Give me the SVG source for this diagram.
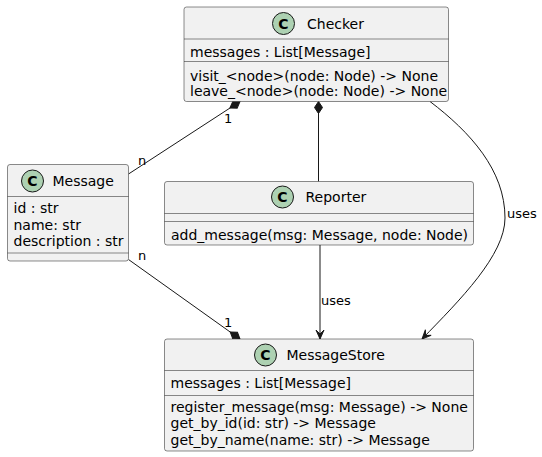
<svg xmlns="http://www.w3.org/2000/svg" width="542" height="457" viewBox="0 0 542 457">
<style>
.box{fill:#F1F1F1;stroke:#181818;stroke-width:0.5}
.sep{stroke:#181818;stroke-width:0.5}
.circ{fill:#ADD1B2;stroke:#181818;stroke-width:1}
.cl{font-family:"DejaVu Sans",sans-serif;font-size:14px;font-weight:bold;fill:#000;text-anchor:middle}
.t{font-family:"DejaVu Sans",sans-serif;font-size:14px;fill:#000}
.lbl{font-family:"DejaVu Sans",sans-serif;font-size:13px;fill:#000}
.edge{fill:none;stroke:#181818;stroke-width:1}
</style>
<defs>
<marker id="dia" markerUnits="userSpaceOnUse" viewBox="-1 -5 14 10" refX="12" refY="0" markerWidth="14" markerHeight="10" orient="auto" overflow="visible">
<path d="M0,0 L6,-4 L12,0 L6,4 Z" fill="#181818" stroke="#181818" stroke-width="1"/>
</marker>
<marker id="arr" markerUnits="userSpaceOnUse" viewBox="-10 -5 11 10" refX="0" refY="0" markerWidth="11" markerHeight="10" orient="auto" overflow="visible">
<path d="M0,0 L-9,-4 L-5,0 L-9,4 Z" fill="#181818" stroke="#181818" stroke-width="1"/>
</marker>
</defs>
<g id="connectors">
<path class="edge" d="M128.5,174 L240,101.5" marker-end="url(#dia)"/>
<path class="edge" d="M318.5,181.5 L318.5,101.5" marker-end="url(#dia)"/>
<path class="edge" d="M128.5,259.5 L240,339" marker-end="url(#dia)"/>
<path class="edge" d="M320,245 L320,339" marker-end="url(#arr)"/>
<path class="edge" d="M430,101.5 C470,132 505,170 505,218 C505,255 460,300 422,339" marker-end="url(#arr)"/>
<text class="lbl" x="138" y="165">n</text>
<text class="lbl" x="224" y="123">1</text>
<text class="lbl" x="138" y="259.5">n</text>
<text class="lbl" x="224" y="327">1</text>
<text class="lbl" x="321" y="305">uses</text>
<text class="lbl" x="507" y="218">uses</text>
</g>
<g id="Checker">
<rect class="box" x="184" y="7" width="264.5" height="94.5" rx="2.5"/>
<circle class="circ" cx="283.5" cy="23.5" r="11"/>
<text class="cl" x="283.5" y="28.5">C</text>
<text class="t" x="307" y="28.5">Checker</text>
<line class="sep" x1="184" y1="39" x2="448.5" y2="39"/>
<text class="t" x="190" y="57">messages : List[Message]</text>
<line class="sep" x1="184" y1="61.5" x2="448.5" y2="61.5"/>
<text class="t" x="190" y="81">visit_&lt;node&gt;(node: Node) -&gt; None</text>
<text class="t" x="190" y="96">leave_&lt;node&gt;(node: Node) -&gt; None</text>
</g>
<g id="Message">
<rect class="box" x="7.5" y="164.5" width="121" height="96.5" rx="2.5"/>
<circle class="circ" cx="32.5" cy="181" r="11"/>
<text class="cl" x="32.5" y="186">C</text>
<text class="t" x="52.5" y="186">Message</text>
<line class="sep" x1="7.5" y1="196.5" x2="128.5" y2="196.5"/>
<text class="t" x="13.5" y="213">id : str</text>
<text class="t" x="13.5" y="230">name: str</text>
<text class="t" x="13.5" y="246">description : str</text>
<line class="sep" x1="7.5" y1="253" x2="128.5" y2="253"/>
</g>
<g id="Reporter">
<rect class="box" x="164.5" y="181.5" width="309" height="63.5" rx="2.5"/>
<circle class="circ" cx="282.5" cy="197" r="11"/>
<text class="cl" x="282.5" y="202">C</text>
<text class="t" x="305.5" y="202">Reporter</text>
<line class="sep" x1="164.5" y1="213.5" x2="473.5" y2="213.5"/>
<line class="sep" x1="164.5" y1="221.5" x2="473.5" y2="221.5"/>
<text class="t" x="171" y="240">add_message(msg: Message, node: Node)</text>
</g>
<g id="MessageStore">
<rect class="box" x="164.5" y="339" width="309" height="112" rx="2.5"/>
<circle class="circ" cx="265.5" cy="355" r="11"/>
<text class="cl" x="265.5" y="360">C</text>
<text class="t" x="286.5" y="360">MessageStore</text>
<line class="sep" x1="164.5" y1="370.5" x2="473.5" y2="370.5"/>
<text class="t" x="170.5" y="388">messages : List[Message]</text>
<line class="sep" x1="164.5" y1="395.5" x2="473.5" y2="395.5"/>
<text class="t" x="170.5" y="412">register_message(msg: Message) -&gt; None</text>
<text class="t" x="170.5" y="428">get_by_id(id: str) -&gt; Message</text>
<text class="t" x="170.5" y="445">get_by_name(name: str) -&gt; Message</text>
</g>
</svg>
